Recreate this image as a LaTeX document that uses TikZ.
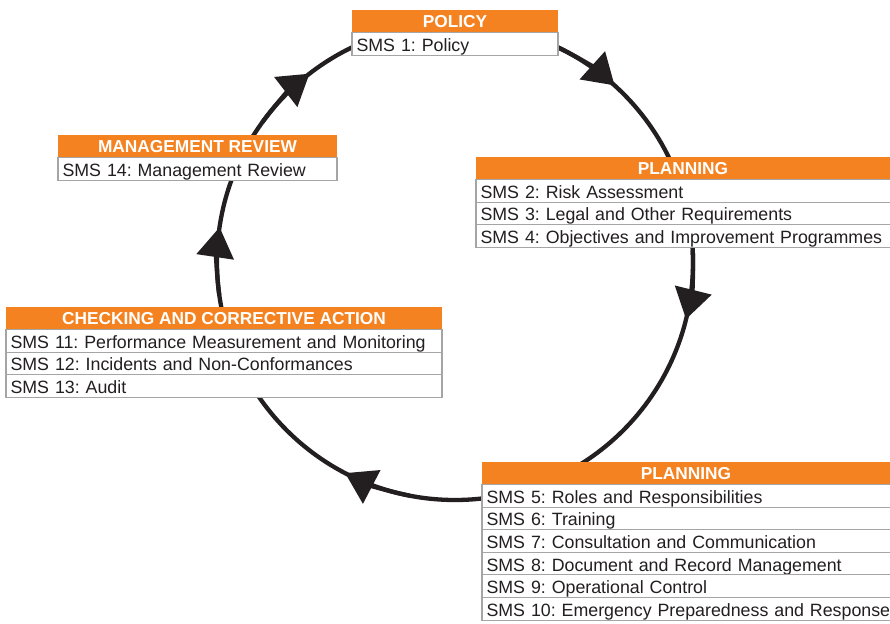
\documentclass[tikz,border=0pt]{standalone}
\usepackage{fontspec}
\setmainfont{Liberation Sans}
\usetikzlibrary{arrows.meta, positioning}

\definecolor{smsorange}{RGB}{244,130,32}
\definecolor{rowgray}{RGB}{165,165,165}
\definecolor{inkdark}{RGB}{35,31,32}

\begin{document}
\frenchspacing
\begin{tikzpicture}[x=1pt, y=1pt,
    hdr/.style={fill=smsorange, text=white, font=\bfseries\fontsize{17.3}{20}\selectfont,
        minimum height=22.5pt, inner sep=0pt, outer sep=0pt, text height=13pt, text depth=0pt},
    row/.style={draw=rowgray, line width=1.1pt, fill=white, text=inkdark,
        font=\fontsize{17.8}{20}\selectfont, minimum height=22.6pt, inner ysep=0pt,
        inner xsep=4.5pt, outer sep=0pt, align=left, text height=15pt, text depth=0pt},
    ring/.style={draw=inkdark, line width=4.3pt},
    tip/.style={-{Triangle[length=30pt, width=37pt]}}]
    \useasboundingbox (0,0) rectangle (890,623);

    % cycle
    \coordinate (hub) at (455,361);
    \draw[ring] (hub) circle[radius=238];
    \draw[ring, tip] ([shift={(65:238)}]hub) arc[start angle=65, end angle=47.9, radius=238];
    \draw[ring, tip] ([shift={(3:238)}]hub) arc[start angle=3, end angle=-13.9, radius=238];
    \draw[ring, tip] ([shift={(259:238)}]hub) arc[start angle=259, end angle=242.5, radius=238];
    \draw[ring, tip] ([shift={(188:238)}]hub) arc[start angle=188, end angle=171.6, radius=238];
    \draw[ring, tip] ([shift={(144:238)}]hub) arc[start angle=144, end angle=127.7, radius=238];

    % policy
    \node[hdr, minimum width=206pt, anchor=north west] (policy) at (352,613) {POLICY};
    \node[row, text width=197pt, below=0pt of policy] (sms1) {SMS 1: Policy};

    % planning (upper), runs off the right edge
    \node[hdr, minimum width=424pt, anchor=north west] (plan) at (476,466) {\hspace*{-10pt}PLANNING};
    \node[row, text width=415pt, below=0pt of plan] (sms2) {SMS 2: Risk Assessment};
    \node[row, text width=415pt, below=0pt of sms2] (sms3) {SMS 3: Legal and Other Requirements};
    \node[row, text width=415pt, below=0pt of sms3] (sms4) {SMS 4: Objectives and Improvement Programmes};

    % planning (lower), runs off the right edge
    \node[hdr, minimum width=418pt, anchor=north west] (implement) at (482,161) {\hspace*{-10pt}PLANNING};
    \node[row, text width=409pt, below=0pt of implement] (sms5) {SMS 5: Roles and Responsibilities};
    \node[row, text width=409pt, below=0pt of sms5] (sms6) {SMS 6: Training};
    \node[row, text width=409pt, below=0pt of sms6] (sms7) {SMS 7: Consultation and Communication};
    \node[row, text width=409pt, below=0pt of sms7] (sms8) {SMS 8: Document and Record Management};
    \node[row, text width=409pt, below=0pt of sms8] (sms9) {SMS 9: Operational Control};
    \node[row, text width=409pt, below=0pt of sms9] (sms10) {SMS 10: Emergency Preparedness and Response};

    % checking
    \node[hdr, minimum width=436pt, anchor=north west] (check) at (6,316) {CHECKING AND CORRECTIVE ACTION};
    \node[row, text width=427pt, below=0pt of check] (sms11) {SMS 11: Performance Measurement and Monitoring};
    \node[row, text width=427pt, below=0pt of sms11] (sms12) {SMS 12: Incidents and Non-Conformances};
    \node[row, text width=427pt, below=0pt of sms12] (sms13) {SMS 13: Audit};

    % review
    \node[hdr, minimum width=279pt, anchor=north west] (review) at (58,488) {MANAGEMENT REVIEW};
    \node[row, text width=270pt, below=0pt of review] (sms14) {SMS 14: Management Review};
\end{tikzpicture}
\end{document}
